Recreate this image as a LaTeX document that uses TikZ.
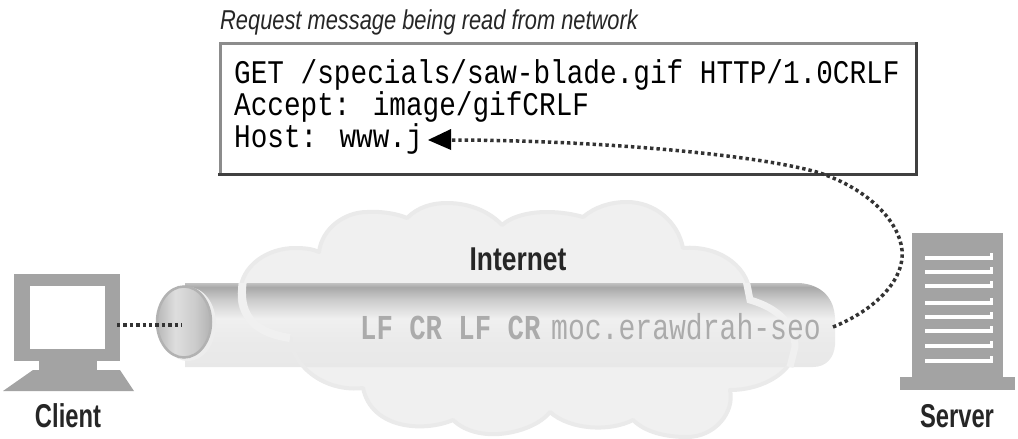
\documentclass[tikz,border=0pt]{standalone}
\usepackage{fontspec}
\setmainfont{Liberation Sans}
\newfontfamily\boxmono[FakeStretch=0.84]{Liberation Mono}
\newfontfamily\tubemono[FakeStretch=0.78]{Liberation Mono}
\newfontfamily\condsans[FakeStretch=0.72]{Liberation Sans}
\newfontfamily\widesans[FakeStretch=0.8]{Liberation Sans}
\newfontfamily\titlefont[FakeStretch=0.8]{Liberation Sans Italic}
\definecolor{icon}{HTML}{A3A3A3}
\definecolor{cloudfill}{HTML}{F0F0F0}
\definecolor{cloudedge}{HTML}{EAEAEA}
\definecolor{dotc}{HTML}{333333}
\definecolor{tubetext}{HTML}{ABABAB}
\pgfdeclareverticalshading{tubeshade}{100bp}{
 color(0bp)=(black!9); color(25bp)=(black!9); color(41bp)=(black!8);
 color(54bp)=(black!6); color(65bp)=(black!20); color(72.5bp)=(black!34);
 color(75bp)=(black!24); color(100bp)=(black!24)}
\pgfdeclarehorizontalshading{capshade}{100bp}{
 color(0bp)=(black!28); color(25bp)=(black!28); color(42bp)=(black!13);
 color(60bp)=(black!20); color(75bp)=(black!30); color(100bp)=(black!30)}
\tikzset{
  x=1pt,y=-1pt,
  iconshape/.style={fill=icon,draw=none},
  slot/.style={fill=white,draw=none},
  dotline/.style={draw=dotc,line width=3.5pt,dash pattern=on 3.4pt off 3pt},
  boxtext/.style={inner sep=0pt,anchor=base west,font=\boxmono\fontsize{33}{33}\selectfont},
  tubetxt/.style={inner sep=0pt,anchor=base west,text=tubetext,font=\tubemono\fontsize{36}{36}\selectfont},
  lab/.style={inner sep=0pt,anchor=base,font=\condsans\bfseries\fontsize{33}{33}\selectfont,text=black!85},
}
\begin{document}
\begin{tikzpicture}
\useasboundingbox (0,0) rectangle (1018,439);
\fill[white] (0,0) rectangle (1018,439);
\def\cloudpath{(290,338)
 .. controls (250,332) and (238,312) .. (240,293)
 .. controls (241,265) and (268,248) .. (295,248)
 .. controls (305,248) and (313,249) .. (319,252)
 .. controls (322,228) and (345,212) .. (367,212)
 .. controls (382,211) and (398,214) .. (407,218)
 .. controls (418,207) and (432,203) .. (447,203)
 .. controls (470,203) and (490,212) .. (502,225)
 .. controls (512,216) and (530,212) .. (547,212)
 .. controls (560,212) and (573,214) .. (583,217)
 .. controls (595,207) and (610,202) .. (627,202)
 .. controls (655,202) and (678,222) .. (683,248)
 .. controls (720,245) and (752,268) .. (750,300)
 .. controls (778,308) and (795,325) .. (795,347)
 .. controls (795,370) and (765,390) .. (730,390)
 .. controls (735,412) and (715,437) .. (687,437)
 .. controls (665,437) and (645,432) .. (633,420)
 .. controls (610,432) and (570,430) .. (550,412)
 .. controls (535,432) and (480,446) .. (453,420)
 .. controls (425,432) and (372,430) .. (363,388)
 .. controls (330,392) and (295,372) .. (290,338) -- cycle}
% cloud body
\fill[cloudfill] \cloudpath;
% tube
\shade[shading=tubeshade] (185,283) -- (800,283)
  .. controls (822,285) and (834,298) .. (835,318)
  -- (835,345) .. controls (834,358) and (826,367) .. (813,367) -- (185,367) -- cycle;
% cloud outline crossing the tube
\draw[cloudedge,line width=4pt,line join=round] \cloudpath;
\begin{scope}
\clip (185,283) rectangle (835,367);
\draw[cloudfill,line width=8pt] (290,338) .. controls (250,332) and (238,312) .. (243,280);
\draw[cloudfill,line width=7pt] (746,280) -- (750,300) .. controls (778,308) and (795,325) .. (795,347) -- (790,367);
\end{scope}
% tube end
\path[fill=black!7] (188,324) ellipse[x radius=28,y radius=37];
\shade[shading=capshade,draw=black!30,line width=2.5pt] (184,322) ellipse[x radius=27,y radius=35.5];
% texts on tube / cloud
\node[lab,font=\widesans\bfseries\fontsize{33}{33}\selectfont] (internet) at (518,270) {Internet};
\node[tubetxt,font=\tubemono\bfseries\fontsize{35}{35}\selectfont] (lfcr) at (360,339) {LF CR LF CR};
\node[tubetxt] (wire) at (551,339) {moc.erawdrah-seo};
% client
\fill[iconshape] (14,274) rectangle (120,361);
\fill[white] (30,286) rectangle (105,349);
\fill[iconshape] (39,361) rectangle (97,371);
\fill[iconshape] (33,370) -- (120,370) -- (134,391) -- (3,391) -- cycle;
\coordinate (client) at (117,325);
\node[lab] (clientlab) at (68,427) {Client};
% server
\fill[iconshape] (912,233) rectangle (1003,378);
\fill[iconshape] (900,377) rectangle (1015,390);
\foreach \y in {258,272,286,303,317,331,346,361}{
  \fill[slot] (925,\y-2) rectangle (993,\y+2);
  \fill[slot] (990,\y-5) rectangle (993,\y+2);
}
\node[lab] (serverlab) at (957,427) {Server};
% message box
\fill[white] (219,42) rectangle (916,174);
\draw[black!45,line width=3pt] (220,174) -- (220,43) -- (916,43);
\draw[black!75,line width=3pt] (916,42) -- (916,174) -- (218,174);
\node[boxtext] (l1) at (234,83) {GET /specials/saw-blade.gif HTTP/1.0CRLF};
\node[boxtext] (l2) at (234,115) {Accept: image/gifCRLF};
\node[boxtext] (l3) at (234,147) {Host: www.j};
\node[inner sep=0pt,anchor=base west,font=\titlefont\fontsize{27.3}{27.3}\selectfont,text=black!85] (title) at (220,29) {Request message being read from network};
% connectors
\coordinate (tip) at (428,140);
\coordinate (wireend) at (833,327);
\coordinate (tubein) at (182,325);
\draw[dotline] (client) -- (tubein);
\draw[dotline] (wireend) .. controls (875,310) and (905,280) .. (902,250)
  .. controls (899,222) and (870,190) .. (820,173)
  .. controls (760,155) and (600,140) .. (448,140);
\fill[black] (tip) -- (451,129) -- (451,150) -- cycle;
\end{tikzpicture}
\end{document}
